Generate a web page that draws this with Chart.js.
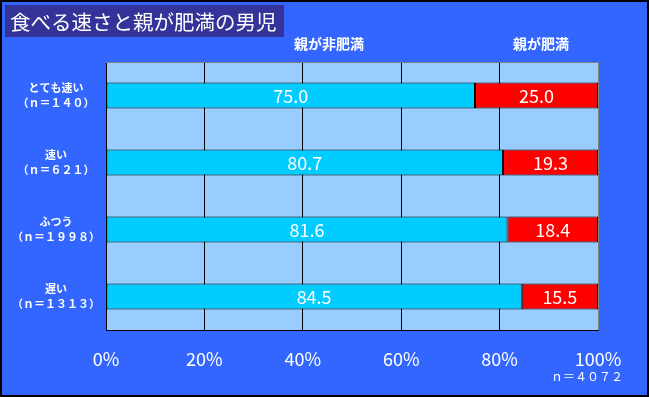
<!DOCTYPE html>
<html>
<head>
<meta charset="utf-8">
<script src="https://cdn.jsdelivr.net/npm/chart.js@4"></script>
<style>
  html, body { margin: 0; padding: 0; background: #3366ff; }
  #wrap { width: 649px; height: 397px; }
</style>
</head>
<body>
<div id="wrap"><canvas id="chart" width="649" height="397"></canvas></div>
<script>
// Data
const categories = [
    ['とても速い', '（ｎ＝１４０）'],
    ['速い', '（ｎ＝６２１）'],
    ['ふつう', '（ｎ＝１９９８）'],
    ['遅い', '（ｎ＝１３１３）']
];
const notObese = [75.0, 80.7, 81.6, 84.5];
const obese = [25.0, 19.3, 18.4, 15.5];
const seriesNames = ['親が非肥満', '親が肥満'];
const titleText = '食べる速さと親が肥満の男児';
const totalText = 'ｎ＝４０７２';

const FONT = '"Noto Sans CJK JP", "Noto Sans", sans-serif';

// Background, title, header labels, value labels and frame
const decor = {
    id: 'decor',
    beforeDraw(chart) {
        const { ctx, chartArea: a } = chart;
        ctx.save();
        ctx.fillStyle = '#3366ff';
        ctx.fillRect(0, 0, chart.width, chart.height);
        ctx.fillStyle = '#99ccff';
        ctx.fillRect(a.left, a.top, a.right - a.left, a.bottom - a.top);
        ctx.restore();
    },
    afterDatasetsDraw(chart) {
        const { ctx } = chart;
        ctx.save();
        ctx.fillStyle = '#fff';
        ctx.font = '18px ' + FONT;
        ctx.textAlign = 'center';
        ctx.textBaseline = 'middle';
        chart.data.datasets.forEach((ds, i) => {
            chart.getDatasetMeta(i).data.forEach((bar, j) => {
                ctx.fillText(ds.data[j].toFixed(1), (bar.x + bar.base) / 2, bar.y + 1);
            });
        });
        ctx.restore();
    },
    afterDraw(chart) {
        const { ctx, chartArea: a } = chart;
        ctx.save();
        // top and right frame lines
        ctx.strokeStyle = '#808080';
        ctx.lineWidth = 1;
        ctx.beginPath();
        ctx.moveTo(a.left, a.top + 0.5);
        ctx.lineTo(a.right + 0.5, a.top + 0.5);
        ctx.lineTo(a.right + 0.5, a.bottom);
        ctx.stroke();

        // title box
        ctx.fillStyle = '#333399';
        ctx.fillRect(5, 5, 279, 32);
        ctx.fillStyle = '#fff';
        ctx.font = '20.5px ' + FONT;
        ctx.textAlign = 'left';
        ctx.textBaseline = 'middle';
        ctx.fillText(titleText, 10, 22);

        // series headers
        ctx.font = 'bold 14px ' + FONT;
        ctx.textAlign = 'center';
        ctx.fillText(seriesNames[0], 329, 44);
        ctx.fillText(seriesNames[1], 541, 44);

        // total n
        ctx.font = '12px ' + FONT;
        ctx.fillText(totalText, 587, 376);

        // outer border
        ctx.strokeStyle = '#000';
        ctx.lineWidth = 2;
        ctx.strokeRect(1, 1, chart.width - 2, chart.height - 2);
        ctx.restore();
    }
};

const chart = new Chart(document.getElementById('chart'), {
    type: 'bar',
    data: {
        labels: categories,
        datasets: [
            {
                label: seriesNames[0],
                data: notObese,
                backgroundColor: '#00ccff',
                borderColor: '#000',
                borderWidth: 1,
                borderSkipped: false,
                barPercentage: 0.39,
                categoryPercentage: 1
            },
            {
                label: seriesNames[1],
                data: obese,
                backgroundColor: '#ff0000',
                borderColor: '#000',
                borderWidth: 1,
                borderSkipped: false,
                barPercentage: 0.39,
                categoryPercentage: 1
            }
        ]
    },
    options: {
        indexAxis: 'y',
        responsive: false,
        animation: false,
        layout: { padding: { top: 62, right: 51, left: 0, bottom: 0 } },
        plugins: {
            legend: { display: false },
            tooltip: { enabled: false }
        },
        scales: {
            x: {
                stacked: true,
                min: 0,
                max: 100,
                afterFit: (s) => { s.height = 67; },
                ticks: {
                    stepSize: 20,
                    color: '#fff',
                    padding: 18,
                    font: { family: FONT, size: 18 },
                    callback: (v) => v + '%'
                },
                grid: {
                    drawTicks: false,
                    color: (c) => (c.tick && c.tick.value === 100 ? '#808080' : '#000')
                },
                border: { display: true, color: '#000' }
            },
            y: {
                stacked: true,
                afterFit: (s) => { s.width = 106; },
                ticks: {
                    color: '#fff',
                    padding: 6,
                    crossAlign: 'center',
                    font: { family: FONT, size: 11, weight: 'bold', lineHeight: 1.4 }
                },
                grid: { drawOnChartArea: false, drawTicks: false },
                border: { display: true, color: '#000' }
            }
        }
    },
    plugins: [decor]
});
</script>
</body>
</html>
